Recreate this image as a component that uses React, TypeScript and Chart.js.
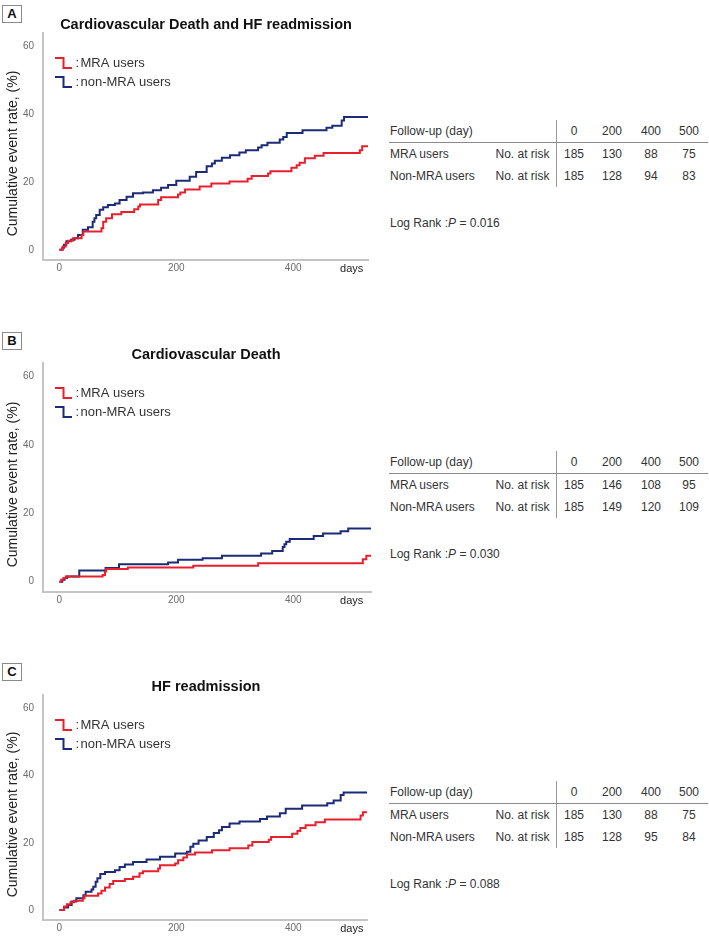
import React, { useEffect, useRef } from "react";
import { Chart, registerables } from "chart.js";
Chart.register(...registerables);

const FONT = 'Arial, "Liberation Sans", Helvetica, sans-serif';
const RED = "#e8202e";
const BLUE = "#1c2b78";

// ---------- data ----------
const seriesLabels = ["MRA users", "non-MRA users"];
const rowLabels = ["MRA users", "Non-MRA users"];
const followUpDays = ["0", "200", "400", "500"];
const yTickValues = [0, 20, 40, 60];
const xTickValues = [0, 200, 400, 500];
const panelLetters = ["A", "B", "C"];
const panelTitles = ["Cardiovascular Death and HF readmission", "Cardiovascular Death", "HF readmission"];
const pValues = ["0.016", "0.030", "0.088"];

// Panel A
const aMraDays = [0, 6, 11, 15, 23, 38, 41, 72, 75, 80, 90, 106, 128, 135, 138, 169, 174, 203, 207, 215, 240, 260, 291, 322, 329, 357, 361, 397, 406, 411, 420, 437, 452, 514, 518, 528];
const aMraRate = [0, 1, 2, 2.7, 3.4, 4.4, 5.4, 6.4, 8.3, 9.3, 10.5, 11.2, 12, 12.8, 13.4, 14.7, 15.5, 16.3, 16.9, 17.8, 18.7, 19.6, 20.2, 21, 21.8, 22.5, 23.2, 24.2, 25, 25.7, 27, 27.8, 28.6, 29.4, 30.6, 30.6];
const aNonDays = [0, 5, 8, 12, 20, 26, 32, 40, 49, 57, 60, 63, 69, 75, 83, 95, 103, 115, 126, 143, 160, 174, 186, 200, 223, 234, 252, 261, 266, 278, 292, 308, 319, 340, 346, 356, 377, 383, 389, 416, 457, 467, 483, 487, 528];
const aNonRate = [0, 0.6, 1.5, 2.5, 3, 3.4, 4.4, 5.9, 6.7, 8.3, 9.3, 10.3, 11.8, 12.6, 13.2, 13.7, 14.7, 15.7, 16.7, 16.9, 17.6, 18.3, 19.1, 20.4, 21.6, 23, 24.7, 25.5, 26.3, 27.2, 27.9, 28.7, 29.4, 30.2, 30.9, 31.6, 32.6, 33.3, 34.5, 35.3, 36, 36.6, 38.2, 39.2, 39.2];

// Panel B
const bMraDays = [0, 3, 7, 11, 74, 78, 80, 117, 229, 340, 519, 525, 533];
const bMraRate = [0, 0.6, 1.1, 1.5, 2, 3, 3.7, 4.2, 4.7, 5.4, 6.6, 7.6, 7.6];
const bNonDays = [0, 5, 9, 13, 34, 79, 102, 186, 203, 245, 278, 345, 364, 382, 385, 388, 394, 435, 451, 481, 494, 533];
const bNonRate = [0, 0.6, 1.1, 1.5, 3.3, 4, 5.1, 5.6, 6.4, 6.9, 7.6, 8.3, 9, 10.2, 11, 11.7, 12.5, 13.4, 14.1, 14.8, 15.6, 15.6];

// Panel C
const cMraDays = [0, 8, 13, 19, 25, 40, 43, 66, 72, 78, 86, 92, 112, 126, 137, 143, 169, 172, 198, 203, 212, 218, 232, 261, 291, 323, 330, 358, 362, 398, 407, 412, 421, 438, 454, 515, 519, 526];
const cMraRate = [0, 1, 1.7, 2.3, 2.7, 3.5, 4.2, 4.9, 5.7, 6.7, 7.7, 8.6, 9.2, 9.9, 10.9, 11.5, 12.3, 13.3, 13.8, 14.8, 15.6, 16.5, 17.1, 17.8, 18.4, 19.2, 20.2, 20.9, 21.7, 22.7, 23.5, 24.4, 25.2, 26.1, 26.9, 28.1, 29.1, 29.1];
const cNonDays = [0, 8, 15, 21, 29, 41, 45, 55, 58, 62, 65, 70, 78, 95, 103, 112, 126, 149, 172, 198, 218, 224, 229, 238, 252, 264, 273, 278, 291, 308, 343, 355, 377, 387, 415, 458, 469, 481, 486, 526];
const cNonRate = [0, 0.7, 1.5, 2.5, 3.5, 4.4, 5.4, 6.1, 6.9, 8.4, 9.4, 10.7, 11.3, 11.8, 12.8, 13.5, 14.3, 15, 15.8, 16.8, 17.3, 18.8, 19.7, 20.7, 21.7, 22.9, 23.7, 24.7, 25.7, 26.3, 27.1, 27.8, 28.8, 30.1, 31.1, 31.8, 32.6, 34.2, 35, 35];

// Numbers at risk
const aRiskMra = [185, 130, 88, 75];
const aRiskNon = [185, 128, 94, 83];
const bRiskMra = [185, 146, 108, 95];
const bRiskNon = [185, 149, 120, 109];
const cRiskMra = [185, 130, 88, 75];
const cRiskNon = [185, 128, 95, 84];

const X_MIN = -28;
const Y_MIN = -3;
const Y_MAX = 64;

// ---------- chart ----------
function makeDecor(title: string) {
  return {
    id: "decor",
    afterDraw(chart: any) {
      const { ctx, chartArea: ca } = chart;
      ctx.save();
      ctx.fillStyle = "#111";
      ctx.font = `bold 14.5px ${FONT}`;
      ctx.textAlign = "center";
      ctx.textBaseline = "middle";
      ctx.fillText(title, 206, ca.top - 8);

      ctx.save();
      ctx.translate(13, (ca.top + ca.bottom) / 2 + 7);
      ctx.rotate(-Math.PI / 2);
      ctx.font = `14px ${FONT}`;
      ctx.fillStyle = "#222";
      ctx.fillText("Cumulative event rate, (%)", 0, 0);
      ctx.restore();

      chart.data.datasets.forEach((ds: any, i: number) => {
        const top = ca.top + 25 + i * 19;
        ctx.strokeStyle = ds.borderColor;
        ctx.lineWidth = 2;
        ctx.beginPath();
        ctx.moveTo(55, top);
        ctx.lineTo(63.5, top);
        ctx.lineTo(63.5, top + 10);
        ctx.lineTo(72, top + 10);
        ctx.stroke();
        ctx.fillStyle = "#333";
        ctx.font = `13px ${FONT}`;
        ctx.textAlign = "left";
        ctx.fillText(":", 75.5, top + 5);
        ctx.fillText(ds.label, 80.5, top + 5);
      });
      ctx.restore();
    },
  };
}

type KMProps = {
  title: string;
  mraDays: number[];
  mraRate: number[];
  nonDays: number[];
  nonRate: number[];
  top: number;
  plotHeight: number;
  plotRight: number;
  xMax: number;
};

function KMChart(p: KMProps) {
  const ref = useRef<HTMLCanvasElement>(null);
  const W = 380;
  const H = 33 + p.plotHeight + 25;
  useEffect(() => {
    const canvas = ref.current!;
    const chart = new Chart(canvas, {
      type: "line",
      data: {
        datasets: [
          {
            label: seriesLabels[0],
            data: p.mraDays.map((d, i) => ({ x: d, y: p.mraRate[i] })),
            borderColor: RED,
            borderWidth: 2,
            stepped: "before",
            pointRadius: 0,
            fill: false,
          },
          {
            label: seriesLabels[1],
            data: p.nonDays.map((d, i) => ({ x: d, y: p.nonRate[i] })),
            borderColor: BLUE,
            borderWidth: 2,
            stepped: "before",
            pointRadius: 0,
            fill: false,
          },
        ],
      },
      options: {
        animation: false,
        responsive: false,
        devicePixelRatio: 1,
        layout: { padding: { top: 33, right: W - p.plotRight, left: 0, bottom: 0 } },
        plugins: { legend: { display: false }, title: { display: false }, tooltip: { enabled: false } },
        scales: {
          x: {
            type: "linear",
            min: X_MIN,
            max: p.xMax,
            grid: { display: false, drawTicks: false },
            border: { display: true, color: "#c4c4c4", width: 2 },
            afterBuildTicks: (s: any) => {
              s.ticks = xTickValues.map((v) => ({ value: v }));
            },
            afterFit: (s: any) => {
              s.height = 25;
            },
            ticks: {
              padding: 2,
              font: (c: any) => ({ family: FONT, size: c.tick && c.tick.value === 500 ? 11 : 10 }),
              color: (c: any) => (c.tick && c.tick.value === 500 ? "#222" : "#6b6b6b"),
              callback: (v: any) => (v === 500 ? "days" : String(v)),
            },
          },
          y: {
            type: "linear",
            min: Y_MIN,
            max: Y_MAX,
            grid: { display: false, drawTicks: false },
            border: { display: true, color: "#c4c4c4", width: 2 },
            afterBuildTicks: (s: any) => {
              s.ticks = yTickValues.map((v) => ({ value: v }));
            },
            afterFit: (s: any) => {
              s.width = 43;
            },
            ticks: { padding: 9, font: { family: FONT, size: 10 }, color: "#6b6b6b" },
          },
        },
      } as any,
      plugins: [makeDecor(p.title)],
    });
    return () => chart.destroy();
  }, []);
  return (
    <canvas
      ref={ref}
      width={W}
      height={H}
      style={{ position: "absolute", left: 0, top: p.top, width: W, height: H }}
    />
  );
}

// ---------- table ----------
function Txt(props: { x: number; y: number; center?: boolean; children: any }) {
  return (
    <div
      style={{
        position: "absolute",
        left: props.x,
        top: props.y,
        transform: props.center ? "translate(-50%,-50%)" : "translateY(-50%)",
        fontFamily: FONT,
        fontSize: 12,
        lineHeight: 1,
        color: "#333",
        whiteSpace: "nowrap",
      }}
    >
      {props.children}
    </div>
  );
}

const colX = [574, 612, 651, 689];

function RiskTable(props: { h: number; riskMra: number[]; riskNon: number[]; p: string }) {
  const { h } = props;
  const rows = [props.riskMra, props.riskNon];
  return (
    <>
      <div style={{ position: "absolute", left: 556, top: h - 11, width: 1, height: 67, background: "#999" }} />
      <div style={{ position: "absolute", left: 389, top: h + 11, width: 319, height: 1, background: "#8a8a8a" }} />
      <Txt x={390} y={h}>Follow-up (day)</Txt>
      {followUpDays.map((d, i) => (
        <Txt key={"h" + i} x={colX[i]} y={h} center>
          {d}
        </Txt>
      ))}
      {rows.map((r, ri) => (
        <React.Fragment key={ri}>
          <Txt x={390} y={h + 22.5 + ri * 22.5}>{rowLabels[ri]}</Txt>
          <Txt x={495.5} y={h + 22.5 + ri * 22.5}>No. at risk</Txt>
          {r.map((v, i) => (
            <Txt key={i} x={colX[i]} y={h + 22.5 + ri * 22.5} center>
              {v}
            </Txt>
          ))}
        </React.Fragment>
      ))}
      <Txt x={390} y={h + 92}>
        Log Rank :<i>P</i> = {props.p}
      </Txt>
    </>
  );
}

function LetterBox(props: { y: number; letter: string }) {
  return (
    <div
      style={{
        position: "absolute",
        left: 2,
        top: props.y,
        width: 20,
        height: 18,
        boxSizing: "border-box",
        border: "1px solid #8a8a8a",
        background: "#fff",
        fontFamily: FONT,
        fontWeight: "bold",
        fontSize: 13,
        lineHeight: "16px",
        textAlign: "center",
        color: "#111",
      }}
    >
      {props.letter}
    </div>
  );
}

export default function App() {
  return (
    <div style={{ position: "absolute", left: 0, top: 0, width: 709, height: 938, background: "#fff", overflow: "hidden" }}>
      <LetterBox y={5} letter={panelLetters[0]} />
      <LetterBox y={332} letter={panelLetters[1]} />
      <LetterBox y={663} letter={panelLetters[2]} />
      <KMChart title={panelTitles[0]} mraDays={aMraDays} mraRate={aMraRate} nonDays={aNonDays} nonRate={aNonRate} top={0} plotHeight={227} plotRight={368} xMax={528} />
      <KMChart title={panelTitles[1]} mraDays={bMraDays} mraRate={bMraRate} nonDays={bNonDays} nonRate={bNonRate} top={330} plotHeight={229} plotRight={371} xMax={533} />
      <KMChart title={panelTitles[2]} mraDays={cMraDays} mraRate={cMraRate} nonDays={cNonDays} nonRate={cNonRate} top={662} plotHeight={225} plotRight={367} xMax={526} />
      <RiskTable h={131} riskMra={aRiskMra} riskNon={aRiskNon} p={pValues[0]} />
      <RiskTable h={462} riskMra={bRiskMra} riskNon={bRiskNon} p={pValues[1]} />
      <RiskTable h={792} riskMra={cRiskMra} riskNon={cRiskNon} p={pValues[2]} />
    </div>
  );
}
